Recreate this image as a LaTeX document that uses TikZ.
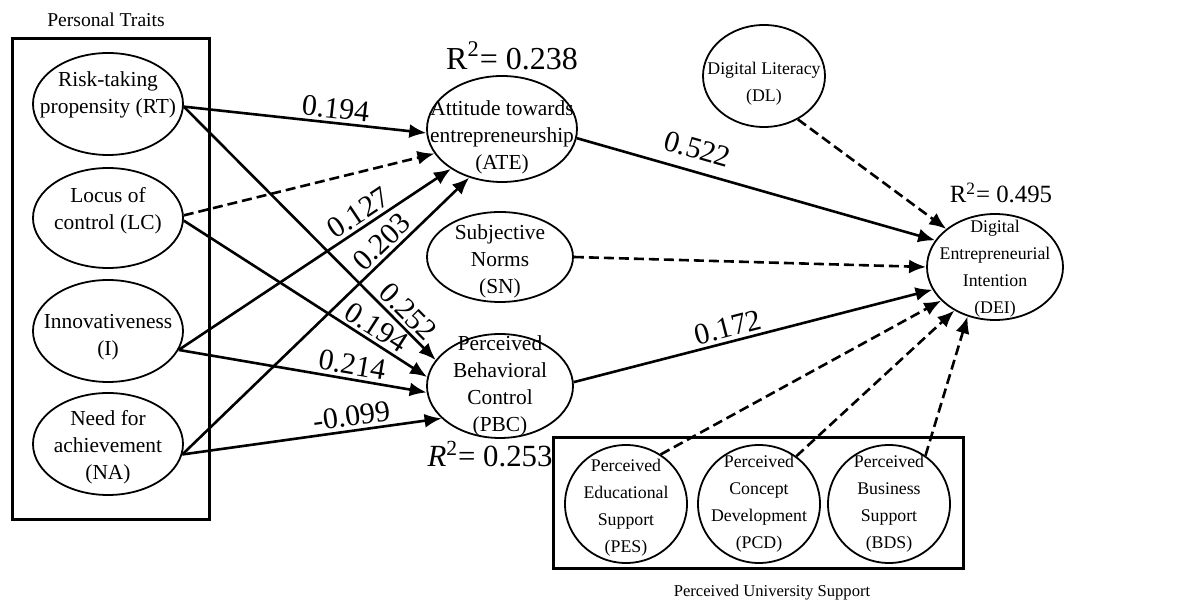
\documentclass[tikz,border=0pt]{standalone}
\usepackage{fontspec}
\setmainfont{Liberation Serif}
\usetikzlibrary{shapes.geometric}
\usetikzlibrary{arrows.meta}

\begin{document}
\begin{tikzpicture}[x=0.5pt,y=-0.5pt,
  lat/.style={ellipse,draw,line width=0.9pt,inner sep=0pt},
  txt/.style={align=center,inner sep=0pt,font=\fontsize{10.7}{13.5}\selectfont},
  stxt/.style={align=center,inner sep=0pt,font=\fontsize{8.9}{13.5}\selectfont},
  eff/.style={line width=1.3pt,-{Latex[length=8.5pt,width=7pt]}},
  deff/.style={eff,dash pattern=on 5pt off 2.5pt},
  coef/.style={sloped,above,inner sep=1.5pt,font=\fontsize{15}{18}\selectfont},
  grp/.style={draw,line width=1.5pt}]
\useasboundingbox (0,0) rectangle (1189,603);

\draw[grp] (12,39) rectangle (209,520);
\draw[grp] (553,438) rectangle (963,569);
\node (pt) at (106,20) {\fontsize{9.8}{12}\selectfont Personal Traits};
\node (pus) at (772,593) {\fontsize{8.3}{10}\selectfont Perceived University Support};

\node[lat,minimum width=75pt,minimum height=51pt] (rt) at (108,104) {} node[txt] at (108,95) {Risk-taking\\propensity (RT)};
\node[lat,minimum width=75pt,minimum height=50pt] (lc) at (108,218) {} node[txt] at (108,211) {Locus of\\control (LC)};
\node[lat,minimum width=75pt,minimum height=51pt] (inn) at (108,331) {} node[txt] at (108,337) {Innovativeness\\(I)};
\node[lat,minimum width=75pt,minimum height=51pt] (na) at (108,444) {} node[txt] at (108,447) {Need for\\achievement\\(NA)};

\node[lat,minimum width=75pt,minimum height=53pt] (ate) at (502,129) {} node[txt] at (502,137) {Attitude towards\\entrepreneurship\\(ATE)};
\node[lat,minimum width=73pt,minimum height=45pt] (sn) at (500,257) {} node[txt] at (500,261) {Subjective\\Norms\\(SN)};
\node[lat,minimum width=73pt,minimum height=52pt] (pbc) at (500,386) {} node[txt] at (500,386) {Perceived\\Behavioral\\Control\\(PBC)};

\node[lat,minimum width=61pt,minimum height=51pt] (dl) at (764,76) {} node[stxt] at (764,84) {Digital Literacy\\(DL)};
\node[lat,minimum width=68pt,minimum height=53pt] (dei) at (995,267) {} node[stxt] at (995,269) {Digital\\Entrepreneurial\\Intention\\(DEI)};

\node[lat,minimum width=61pt,minimum height=59pt] (pes) at (626,504) {} node[stxt] at (626,508) {Perceived\\Educational\\Support\\(PES)};
\node[lat,minimum width=61pt,minimum height=59pt] (pcd) at (759,504) {} node[stxt] at (759,504) {Perceived\\Concept\\Development\\(PCD)};
\node[lat,minimum width=61pt,minimum height=59pt] (bds) at (889,504) {} node[stxt] at (889,504) {Perceived\\Business\\Support\\(BDS)};

\node (r1) at (512,56) {\fontsize{16}{18}\selectfont R\textsuperscript{2}= 0.238};
\node (r2) at (490,454) {\fontsize{15.4}{18}\selectfont \textit{R}\textsuperscript{2}= 0.253};
\node (r3) at (1001,193) {\fontsize{12.4}{15}\selectfont R\textsuperscript{2}= 0.495};

\draw[eff] (rt.-2) -- node[coef,pos=.62] {0.194} (ate.183);
\draw[eff] (rt.-2) -- node[coef,pos=.85] {0.252} (pbc.158);
\draw[deff] (lc.2) -- (ate.200);
\draw[eff] (lc.-2) -- node[coef,pos=.76] {0.194} (pbc.173);
\draw[eff] (inn.-15) -- node[coef,pos=.69] {0.127} (ate.218);
\draw[eff] (inn.-15) -- node[coef,pos=.69] {0.214} (pbc.185);
\draw[eff] (na.-8) -- node[coef,pos=.73] {0.203} (ate.236);
\draw[eff] (na.-8) -- node[coef,pos=.66] {-0.099} (pbc.209);

\draw[eff] (ate.-7) -- node[coef,above=4pt,pos=.32] {0.522} (dei.156);
\draw[deff] (sn.east) -- (dei.west);
\draw[eff] (pbc.3) -- node[coef,pos=.44] {0.172} (dei.200);
\draw[deff] (dl.-52) -- (dei.142);
\draw[deff] (pes.55) -- (dei.212);
\draw[deff] (pcd.52) -- (dei.227);
\draw[deff] (bds.53) -- (dei.241);
\end{tikzpicture}
\end{document}
